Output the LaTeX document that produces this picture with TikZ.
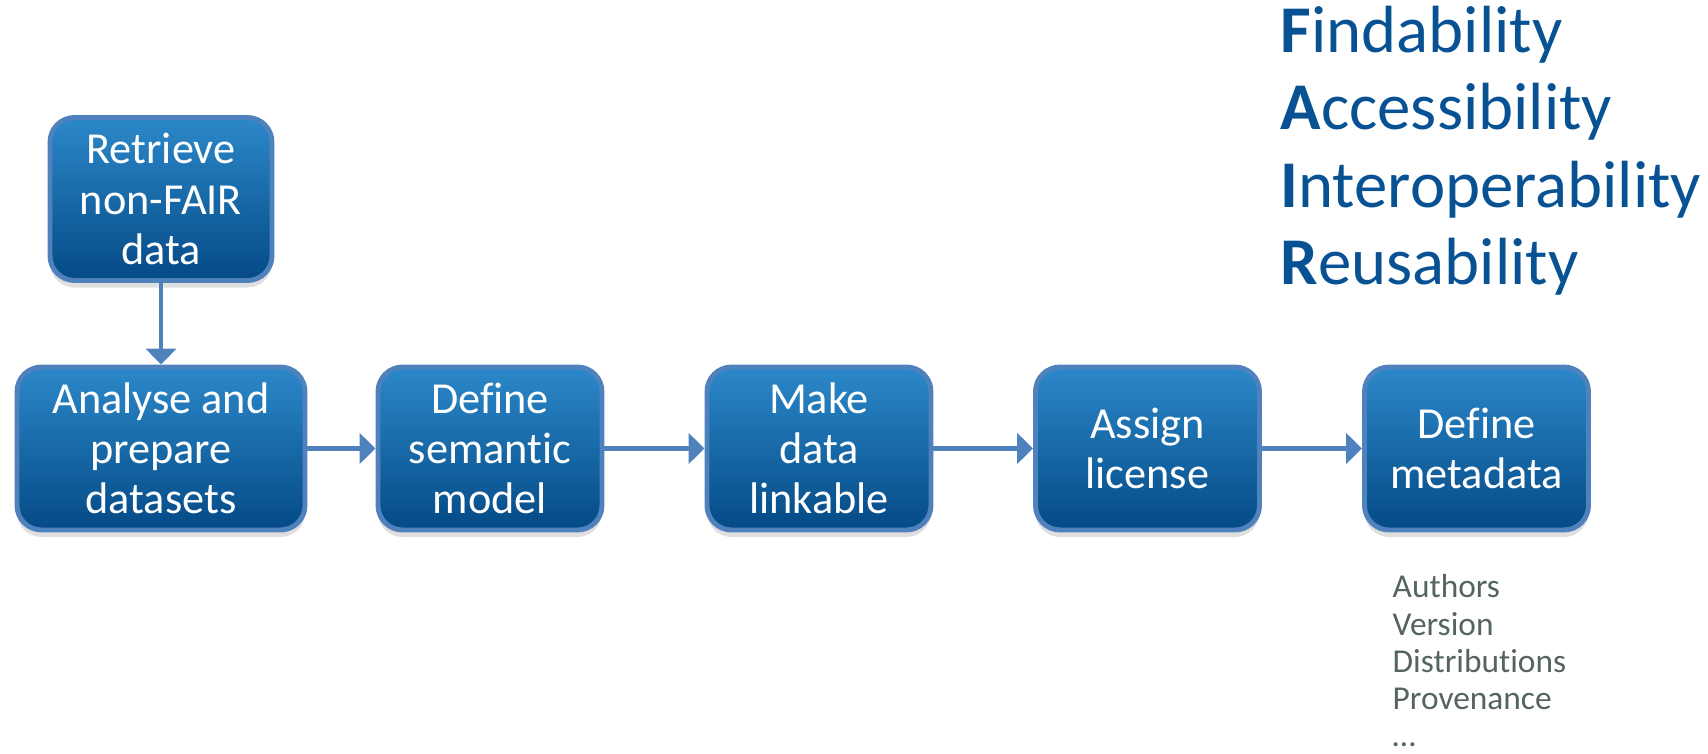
\documentclass[tikz,border=0pt]{standalone}
\usepackage{fontspec}
\setmainfont{Carlito}[RawFeature={-liga}]
\usetikzlibrary{arrows.meta,shadows}
\definecolor{boxtop}{RGB}{44,136,201}
\definecolor{boxbot}{RGB}{4,74,134}
\definecolor{boxline}{RGB}{79,129,189}
\definecolor{fairblue}{RGB}{8,82,148}
\definecolor{metagray}{RGB}{84,100,96}
\begin{document}
\begin{tikzpicture}[
	stepbox/.style={draw=boxline, line width=1.4pt, rounded corners=7pt, top color=boxtop, bottom color=boxbot, text=white, align=center, minimum height=1.63cm, minimum width=2.24cm, inner sep=1pt, font=\fontsize{12.6}{14.3}\selectfont, drop shadow={shadow xshift=0pt, shadow yshift=-2pt, opacity=0.25}},
	flow/.style={draw=boxline, line width=1.4pt, -{Triangle[width=8.5pt, length=4.5pt]}},
	fair/.style={anchor=base west, inner sep=0pt, text=fairblue, font=\fontsize{19}{22}\selectfont}
	]
	%\draw[help lines, thick] (0,0) grid (17,7);
	\useasboundingbox (0,0) rectangle (17.08,7.53);
	\node[stepbox, minimum width=2.22cm] (retrieve) at (1.61,5.54) {Retrieve\\non-FAIR\\data};
	\node[stepbox, minimum width=2.88cm] (analyse) at (1.61,3.045) {Analyse and\\prepare\\datasets};
	\node[stepbox] (semantic) at (4.90,3.045) {Define\\semantic\\model};
	\node[stepbox] (linkable) at (8.19,3.045) {Make\\data\\linkable};
	\node[stepbox] (license) at (11.475,3.045) {Assign\\license};
	\node[stepbox] (metadata) at (14.765,3.045) {Define\\metadata};
	\draw[flow] (retrieve) -- (analyse);
	\draw[flow] (analyse) -- (semantic);
	\draw[flow] (semantic) -- (linkable);
	\draw[flow] (linkable) -- (license);
	\draw[flow] (license) -- (metadata);
	% FAIR
	\node[fair] (findable) at (12.80,7.00) {\textbf{F}indability};
	\node[fair] (accessible) at (12.80,6.23) {\textbf{A}ccessibility};
	\node[fair] (interop) at (12.80,5.45) {\textbf{I}nteroperability};
	\node[fair] (reusable) at (12.80,4.68) {\textbf{R}eusability};
	% metadata items
	\node[anchor=north west, inner sep=0pt, align=left, text=metagray, font=\fontsize{9.5}{10.6}\selectfont] (items) at (13.92,1.79) {Authors\\Version\\Distributions\\Provenance\\\dots};
\end{tikzpicture}
\end{document}
